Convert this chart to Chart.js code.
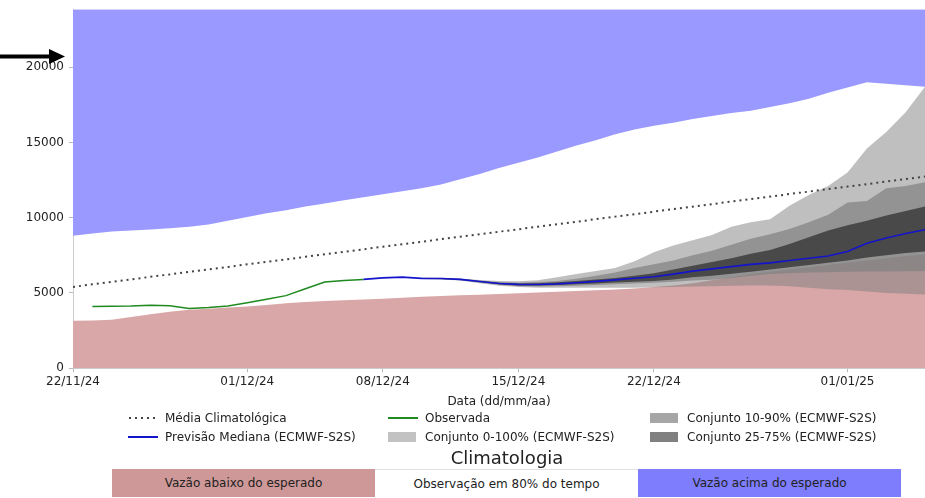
<!DOCTYPE html>
<html>
<head>
<meta charset="utf-8">
<script src="https://cdn.jsdelivr.net/npm/chart.js@4.4.1/dist/chart.umd.min.js"></script>
<style>
    body { margin: 0; background: #fff; font-family: 'DejaVu Sans', sans-serif; color: #222; }
    #quadro { position: relative; width: 925px; height: 498px; overflow: hidden; }
    #area-grafico { position: absolute; left: 0; top: -3px; width: 925px; height: 416px; }
    .legend-item { position: absolute; height: 18px; display: flex; align-items: center; font-size: 12px; white-space: nowrap; }
    .legend-sample { width: 30px; height: 18px; margin-right: 7px; flex: none; }
    #clima-titulo { position: absolute; left: 0; width: 1014px; top: 447px; text-align: center; font-size: 18px; }
    .clima-caixa { position: absolute; top: 469px; height: 28px; width: 263px; display: flex; align-items: center; justify-content: center; font-size: 12px; box-sizing: border-box; }
</style>
</head>
<body>
<div id="quadro">
    <div id="area-grafico"><canvas id="grafico"></canvas></div>
    <div id="legenda"></div>
    <div id="clima-titulo">Climatologia</div>
    <div id="clima-barra"></div>
</div>
<script>
// dias do eixo x (um ponto por dia)
const dias = [
    '22/11/24', '23/11/24', '24/11/24', '25/11/24', '26/11/24', '27/11/24', '28/11/24', '29/11/24', '30/11/24',
    '01/12/24', '02/12/24', '03/12/24', '04/12/24', '05/12/24', '06/12/24', '07/12/24', '08/12/24', '09/12/24',
    '10/12/24', '11/12/24', '12/12/24', '13/12/24', '14/12/24', '15/12/24', '16/12/24', '17/12/24', '18/12/24',
    '19/12/24', '20/12/24', '21/12/24', '22/12/24', '23/12/24', '24/12/24', '25/12/24', '26/12/24', '27/12/24',
    '28/12/24', '29/12/24', '30/12/24', '31/12/24', '01/01/25', '02/01/25', '03/01/25', '04/01/25', '05/01/25'
];
const rotulosX = ['22/11/24', '01/12/24', '08/12/24', '15/12/24', '22/12/24', '01/01/25'];
const rotulosY = [0, 5000, 10000, 15000, 20000];

// climatologia (limites da faixa de 80%)
const climBaixa = [
    3150, 3170, 3220, 3400, 3580, 3750, 3880, 3950, 4030, 4100,
    4200, 4320, 4400, 4460, 4520, 4570, 4620, 4680, 4740, 4790,
    4840, 4880, 4930, 4980, 5030, 5080, 5130, 5180, 5230, 5300,
    5400, 5500, 5650, 5850, 6050, 6250, 6400, 6550, 6700, 6850,
    7000, 7150, 7300, 7450, 7550
];
const climAlta = [
    8800, 8950, 9080, 9150, 9220, 9300, 9400, 9550, 9800, 10050,
    10300, 10500, 10750, 10950, 11150, 11350, 11550, 11750, 11950, 12200,
    12550, 12900, 13300, 13650, 14000, 14400, 14800, 15150, 15550, 15850,
    16100, 16300, 16550, 16750, 16950, 17100, 17350, 17600, 17900, 18300,
    18650, 19000, 18900, 18800, 18700
];
const mediaClim = [
    5400, 5570, 5730, 5900, 6070, 6230, 6400, 6570, 6730, 6900,
    7070, 7230, 7400, 7570, 7730, 7900, 8070, 8230, 8400, 8570,
    8730, 8900, 9070, 9230, 9400, 9570, 9730, 9900, 10070, 10230,
    10400, 10570, 10730, 10900, 11070, 11230, 11400, 11570, 11730, 11900,
    12070, 12230, 12400, 12570, 12730
];

// vazao observada (a partir de 23/11/24)
const inicioObs = 1;
const observada = [4100, 4120, 4140, 4190, 4150, 3960, 4030, 4130, 4350, 4580, 4820, 5280, 5730, 5830, 5900];

// previsao mediana ECMWF-S2S (a partir de 07/12/24)
const inicioPrev = 15;
const mediana = [
    5900, 6000, 6050, 5970, 5960, 5900, 5760, 5630, 5570, 5560,
    5600, 5680, 5770, 5870, 5980, 6080, 6250, 6450, 6600, 6750,
    6900, 7000, 7150, 7300, 7450, 7750, 8300, 8650, 8950, 9200
];

// percentis do conjunto (a partir de 10/12/24)
const inicioConj = 18;
const p0 = [5920, 5890, 5820, 5650, 5480, 5390, 5350, 5340, 5340, 5340, 5340, 5350, 5370, 5390, 5420, 5450, 5480, 5500, 5500, 5450, 5350, 5250, 5200, 5100, 5000, 4950, 4900];
const p10 = [5930, 5910, 5850, 5700, 5540, 5450, 5430, 5450, 5480, 5520, 5570, 5620, 5680, 5740, 5820, 5880, 6000, 6150, 6250, 6300, 6350, 6380, 6400, 6420, 6430, 6440, 6450];
const p25 = [5940, 5930, 5870, 5720, 5580, 5500, 5490, 5520, 5570, 5630, 5690, 5750, 5800, 5900, 6050, 6150, 6280, 6400, 6550, 6700, 6850, 7000, 7150, 7350, 7500, 7650, 7750];
const p75 = [5990, 5980, 5920, 5790, 5680, 5630, 5650, 5710, 5800, 5890, 6000, 6150, 6300, 6550, 6800, 7050, 7300, 7600, 7850, 8250, 8700, 9150, 9500, 9800, 10150, 10450, 10750];
const p90 = [6000, 5990, 5940, 5820, 5720, 5680, 5720, 5800, 5950, 6150, 6350, 6650, 6900, 7150, 7500, 7800, 8200, 8600, 8900, 9250, 9700, 10200, 11000, 11100, 11950, 12100, 12350];
const p100 = [6020, 6010, 5960, 5860, 5800, 5780, 5850, 6050, 6250, 6450, 6650, 7100, 7700, 8150, 8500, 8850, 9400, 9700, 9900, 10800, 11500, 12100, 13000, 14600, 15700, 17000, 18700];

const valorSeta = 20700;

const corAbaixo = '#d9a7a7';
const corAcima = '#9999ff';
const cor0100 = 'rgba(128, 128, 128, 0.5)';
const cor1090 = 'rgba(128, 128, 128, 0.7)';
const cor2575 = 'rgba(0, 0, 0, 0.5)';

function pontos(valores, inicio) {
    return valores.map((v, i) => ({ x: inicio + i, y: v }));
}

function faixa(valores, inicio, fill, cor, order) {
    return {
        data: pontos(valores, inicio),
        fill: fill,
        backgroundColor: cor,
        borderWidth: 0,
        pointRadius: 0,
        order: order
    };
}

Chart.defaults.font.family = "'DejaVu Sans', sans-serif";
Chart.defaults.font.size = 12;
Chart.defaults.color = '#222';

const setaPlugin = {
    id: 'seta',
    afterDraw(chart) {
        const ctx = chart.ctx;
        const y = chart.scales.y.getPixelForValue(valorSeta);
        const ponta = chart.chartArea.left - 8;
        ctx.save();
        ctx.strokeStyle = '#000';
        ctx.fillStyle = '#000';
        ctx.lineWidth = 4;
        ctx.beginPath();
        ctx.moveTo(0, y);
        ctx.lineTo(ponta - 12, y);
        ctx.stroke();
        ctx.beginPath();
        ctx.moveTo(ponta, y);
        ctx.lineTo(ponta - 16, y - 7.5);
        ctx.lineTo(ponta - 16, y + 7.5);
        ctx.closePath();
        ctx.fill();
        ctx.restore();
    }
};

const ctx = document.getElementById('grafico').getContext('2d');

const grafico = new Chart(ctx, {
    type: 'line',
    data: {
        datasets: [
            faixa(climBaixa, 0, 'origin', corAbaixo, 10),   // 0
            faixa(climAlta, 0, 'end', corAcima, 10),        // 1
            faixa(p0, inicioConj, false, cor0100, 9),       // 2
            faixa(p100, inicioConj, 2, cor0100, 9),         // 3
            faixa(p10, inicioConj, false, cor1090, 8),      // 4
            faixa(p90, inicioConj, 4, cor1090, 8),          // 5
            faixa(p25, inicioConj, false, cor2575, 7),      // 6
            faixa(p75, inicioConj, 6, cor2575, 7),          // 7
            {
                label: 'Média Climatológica',
                data: pontos(mediaClim, 0),
                borderColor: '#444',
                borderWidth: 2,
                borderDash: [2, 4],
                pointRadius: 0,
                fill: false,
                order: 3
            },
            {
                label: 'Observada',
                data: pontos(observada, inicioObs),
                borderColor: '#1f8a1f',
                borderWidth: 1.5,
                pointRadius: 0,
                fill: false,
                order: 2
            },
            {
                label: 'Previsão Mediana (ECMWF-S2S)',
                data: pontos(mediana, inicioPrev),
                borderColor: '#1414cc',
                borderWidth: 1.6,
                pointRadius: 0,
                fill: false,
                order: 1
            }
        ]
    },
    options: {
        responsive: true,
        maintainAspectRatio: false,
        animation: false,
        layout: { padding: { top: 7, left: 0, right: 0, bottom: 0 } },
        plugins: {
            legend: { display: false },
            tooltip: { enabled: false }
        },
        scales: {
            x: {
                type: 'linear',
                min: 0,
                max: dias.length - 1,
                afterBuildTicks: (axis) => {
                    axis.ticks = rotulosX.map(r => ({ value: dias.indexOf(r) }));
                },
                ticks: {
                    autoSkip: false,
                    maxRotation: 0,
                    padding: 2,
                    callback: (value) => dias[value]
                },
                grid: { drawOnChartArea: false, tickLength: 4, color: '#bbb' },
                border: { color: '#ccc' },
                title: { display: true, text: 'Data (dd/mm/aa)', padding: { top: 4, bottom: 4 } }
            },
            y: {
                min: 0,
                max: 23850,
                afterBuildTicks: (axis) => {
                    axis.ticks = rotulosY.map(v => ({ value: v }));
                },
                afterFit: (scale) => {
                    scale.width = 73;
                },
                ticks: {
                    padding: 5,
                    callback: (value) => String(value)
                },
                grid: { drawOnChartArea: false, tickLength: 4, color: '#bbb' },
                border: { color: '#ccc' }
            }
        }
    },
    plugins: [setaPlugin]
});

// legenda em html, tres colunas
const legendaItens = [
    { texto: 'Média Climatológica', tipo: 'pontos', cor: '#444', col: 0, lin: 0 },
    { texto: 'Previsão Mediana (ECMWF-S2S)', tipo: 'linha', cor: '#1414cc', col: 0, lin: 1 },
    { texto: 'Observada', tipo: 'linha', cor: '#1f8a1f', col: 1, lin: 0 },
    { texto: 'Conjunto 0-100% (ECMWF-S2S)', tipo: 'caixa', cor: '#c2c2c2', col: 1, lin: 1 },
    { texto: 'Conjunto 10-90% (ECMWF-S2S)', tipo: 'caixa', cor: '#a6a6a6', col: 2, lin: 0 },
    { texto: 'Conjunto 25-75% (ECMWF-S2S)', tipo: 'caixa', cor: '#808080', col: 2, lin: 1 }
];
const colunasX = [128, 388, 650];
const linhasY = [409, 428];

const legenda = document.getElementById('legenda');
legendaItens.forEach(item => {
    let amostra;
    if (item.tipo === 'pontos') {
        amostra = `<svg class="legend-sample" viewBox="0 0 30 18"><line x1="1" y1="9" x2="30" y2="9" stroke="${item.cor}" stroke-width="2" stroke-dasharray="2 4"/></svg>`;
    } else if (item.tipo === 'linha') {
        amostra = `<svg class="legend-sample" viewBox="0 0 30 18"><line x1="0" y1="9" x2="30" y2="9" stroke="${item.cor}" stroke-width="2"/></svg>`;
    } else {
        amostra = `<svg class="legend-sample" viewBox="0 0 30 18"><rect x="0" y="4" width="28" height="10" fill="${item.cor}"/></svg>`;
    }
    legenda.innerHTML += `<div class="legend-item" style="left:${colunasX[item.col]}px;top:${linhasY[item.lin]}px">${amostra}<span>${item.texto}</span></div>`;
});

const climaCaixas = [
    { texto: 'Vazão abaixo do esperado', cor: '#cf9898', x: 112 },
    { texto: 'Observação em 80% do tempo', cor: '#ffffff', x: 375 },
    { texto: 'Vazão acima do esperado', cor: '#7d7dfd', x: 638 }
];
const barra = document.getElementById('clima-barra');
climaCaixas.forEach(c => {
    const borda = c.cor === '#ffffff' ? 'border-top:1px solid #e2e2e2;' : '';
    barra.innerHTML += `<div class="clima-caixa" style="left:${c.x}px;background:${c.cor};${borda}">${c.texto}</div>`;
});
</script>
</body>
</html>
